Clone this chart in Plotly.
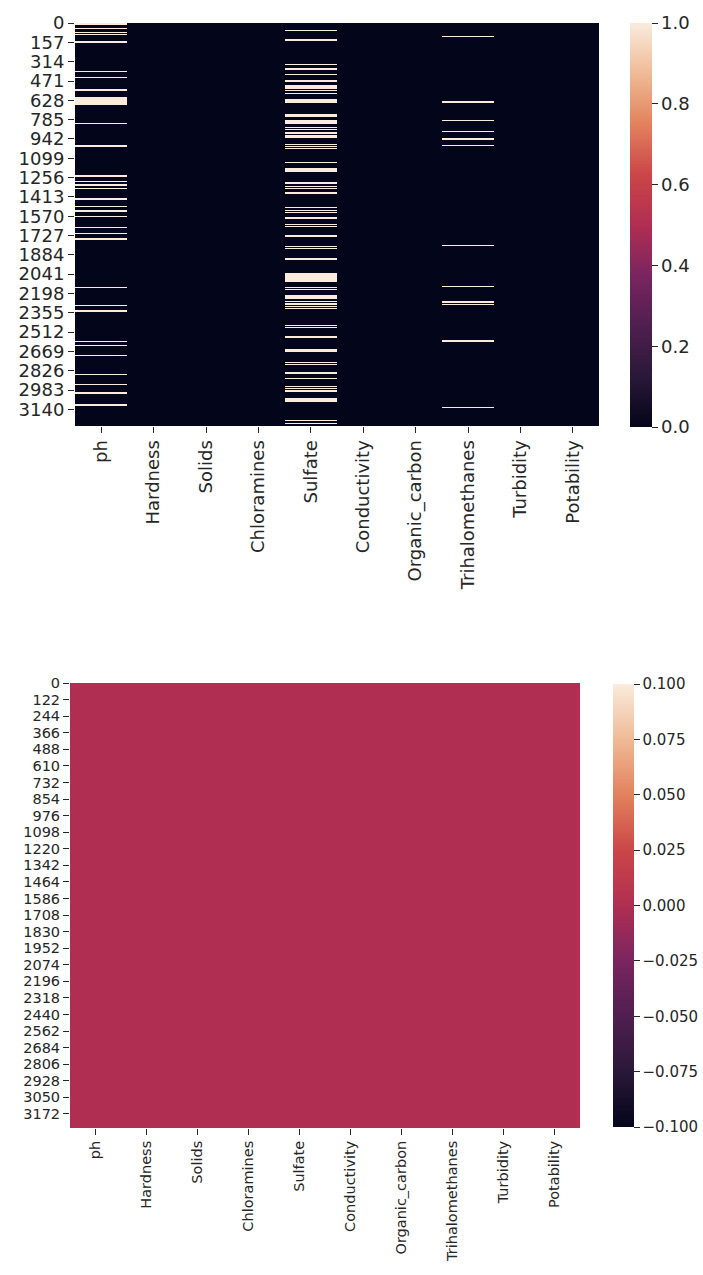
import numpy as np
import plotly.graph_objects as go

# Water-quality dataset: 3276 samples, 10 columns
n_rows = 3276
columns = ["ph", "Hardness", "Solids", "Chloramines", "Sulfate",
           "Conductivity", "Organic_carbon", "Trihalomethanes",
           "Turbidity", "Potability"]

# Row spans (start, end) where a value is missing, per column
ph_missing = [
    (0, 14), (44, 52), (72, 80), (88, 96), (150, 162), (392, 400),
    (438, 450), (540, 552), (600, 664), (810, 822), (995, 1010),
    (1238, 1252), (1284, 1292), (1312, 1324), (1344, 1352), (1426, 1440),
    (1484, 1492), (1518, 1536), (1568, 1578), (1660, 1668), (1708, 1716),
    (1750, 1768), (2150, 2158), (2292, 2300), (2332, 2350), (2583, 2591),
    (2615, 2623), (2697, 2710), (2850, 2862), (2936, 2944), (3003, 3015),
    (3098, 3116),
]
sulfate_missing = [
    (56, 68), (132, 146), (336, 344), (362, 378), (416, 424), (464, 480),
    (503, 538), (545, 553), (568, 576), (620, 652), (738, 762), (788, 820),
    (842, 850), (858, 866), (887, 900), (914, 932), (980, 988),
    (1000, 1008), (1020, 1028), (1126, 1140), (1180, 1210), (1290, 1306),
    (1324, 1332), (1342, 1350), (1372, 1388), (1498, 1506), (1520, 1528),
    (1538, 1546), (1576, 1594), (1632, 1640), (1648, 1656), (1726, 1742),
    (1812, 1820), (1828, 1836), (1910, 1926), (2030, 2106), (2150, 2158),
    (2164, 2172), (2214, 2240), (2256, 2270), (2276, 2290), (2300, 2308),
    (2318, 2326), (2454, 2462), (2468, 2476), (2548, 2562), (2652, 2678),
    (2758, 2766), (2772, 2780), (2838, 2852), (2882, 2896), (2952, 2960),
    (2964, 2972), (2985, 3002), (3052, 3082), (3230, 3238), (3248, 3256),
]
trihalomethanes_missing = [
    (104, 116), (635, 650), (786, 794), (878, 886), (936, 950), (988, 996),
    (1802, 1810), (2138, 2146), (2260, 2274), (2286, 2294), (2578, 2594),
    (3122, 3130),
]
missing_spans = {
    "ph": ph_missing,
    "Sulfate": sulfate_missing,
    "Trihalomethanes": trihalomethanes_missing,
}

# Tick labels
top_row_ticks = list(range(0, n_rows, 157))
bottom_row_ticks = list(range(0, n_rows, 122))
top_cbar_ticks = [0.0, 0.2, 0.4, 0.6, 0.8, 1.0]
bottom_cbar_ticks = [-0.1, -0.075, -0.05, -0.025, 0.0, 0.025, 0.05, 0.075, 0.1]

# isnull() matrix before and after imputation
null_before = np.zeros((n_rows, len(columns)))
for col, spans in missing_spans.items():
    j = columns.index(col)
    for a, b in spans:
        null_before[a:b, j] = 1.0
null_after = np.zeros((n_rows, len(columns)))

# "rocket"-style sequential colour scale
rocket = [
    [0.0, "#03051a"], [0.125, "#2a1838"], [0.25, "#4f1f4f"],
    [0.375, "#7a2560"], [0.5, "#b02e52"], [0.625, "#cb4648"],
    [0.75, "#e2825d"], [0.875, "#f0ba96"], [1.0, "#faebdd"],
]

W, H = 703, 1275
FONT = "DejaVu Sans"
TXT = "#262626"

def px_x(p):
    return p / W

def px_y(p):
    return 1 - p / H

rows = list(range(n_rows))

fig = go.Figure()
fig.add_trace(go.Heatmap(
    z=null_before, x=columns, y=rows, colorscale=rocket, zmin=0, zmax=1,
    xaxis="x", yaxis="y", hoverinfo="skip",
    colorbar=dict(
        thickness=22, thicknessmode="pixels", len=404, lenmode="pixels",
        x=px_x(630), xanchor="left", y=px_y(23), yanchor="top",
        xpad=0, ypad=0, outlinewidth=0, ticks="outside", ticklen=6,
        tickcolor=TXT, tickvals=top_cbar_ticks,
        ticktext=[f"{v:.1f}" for v in top_cbar_ticks],
        tickfont=dict(size=18, family=FONT, color=TXT),
    ),
))
fig.add_trace(go.Heatmap(
    z=null_after, x=columns, y=rows, colorscale=rocket, zmin=-0.1, zmax=0.1,
    xaxis="x2", yaxis="y2", hoverinfo="skip",
    colorbar=dict(
        thickness=21, thicknessmode="pixels", len=443, lenmode="pixels",
        x=px_x(613), xanchor="left", y=px_y(684), yanchor="top",
        xpad=0, ypad=0, outlinewidth=0, ticks="outside", ticklen=6,
        tickcolor=TXT, tickvals=bottom_cbar_ticks,
        ticktext=[f"{v:.3f}".replace("-", "\u2212") for v in bottom_cbar_ticks],
        tickfont=dict(size=15, family=FONT, color=TXT),
    ),
))

def xaxis_style(domain, size, anchor):
    return dict(
        domain=domain, anchor=anchor, type="category", tickangle=-90,
        ticks="outside", ticklen=6, tickcolor=TXT, showgrid=False,
        zeroline=False, showline=False, automargin=False,
        tickfont=dict(size=size, family=FONT, color=TXT),
    )

def yaxis_style(domain, size, anchor, tickvals):
    return dict(
        domain=domain, anchor=anchor, range=[n_rows - 0.5, -0.5],
        tickvals=tickvals, ticktext=[str(v) for v in tickvals],
        ticks="outside", ticklen=6, tickcolor=TXT, showgrid=False,
        zeroline=False, showline=False, automargin=False,
        tickfont=dict(size=size, family=FONT, color=TXT),
    )

fig.update_layout(
    width=W, height=H, margin=dict(l=0, r=0, t=0, b=0),
    template="none", paper_bgcolor="white", plot_bgcolor="white",
    font=dict(family=FONT, color=TXT),
    xaxis=xaxis_style([px_x(75), px_x(599)], 18, "y"),
    yaxis=yaxis_style([px_y(426), px_y(23)], 18, "x", top_row_ticks),
    xaxis2=xaxis_style([px_x(70), px_x(580)], 14.5, "y2"),
    yaxis2=yaxis_style([px_y(1128), px_y(683)], 14.5, "x2", bottom_row_ticks),
    showlegend=False,
)

fig.write_html("out.html")
